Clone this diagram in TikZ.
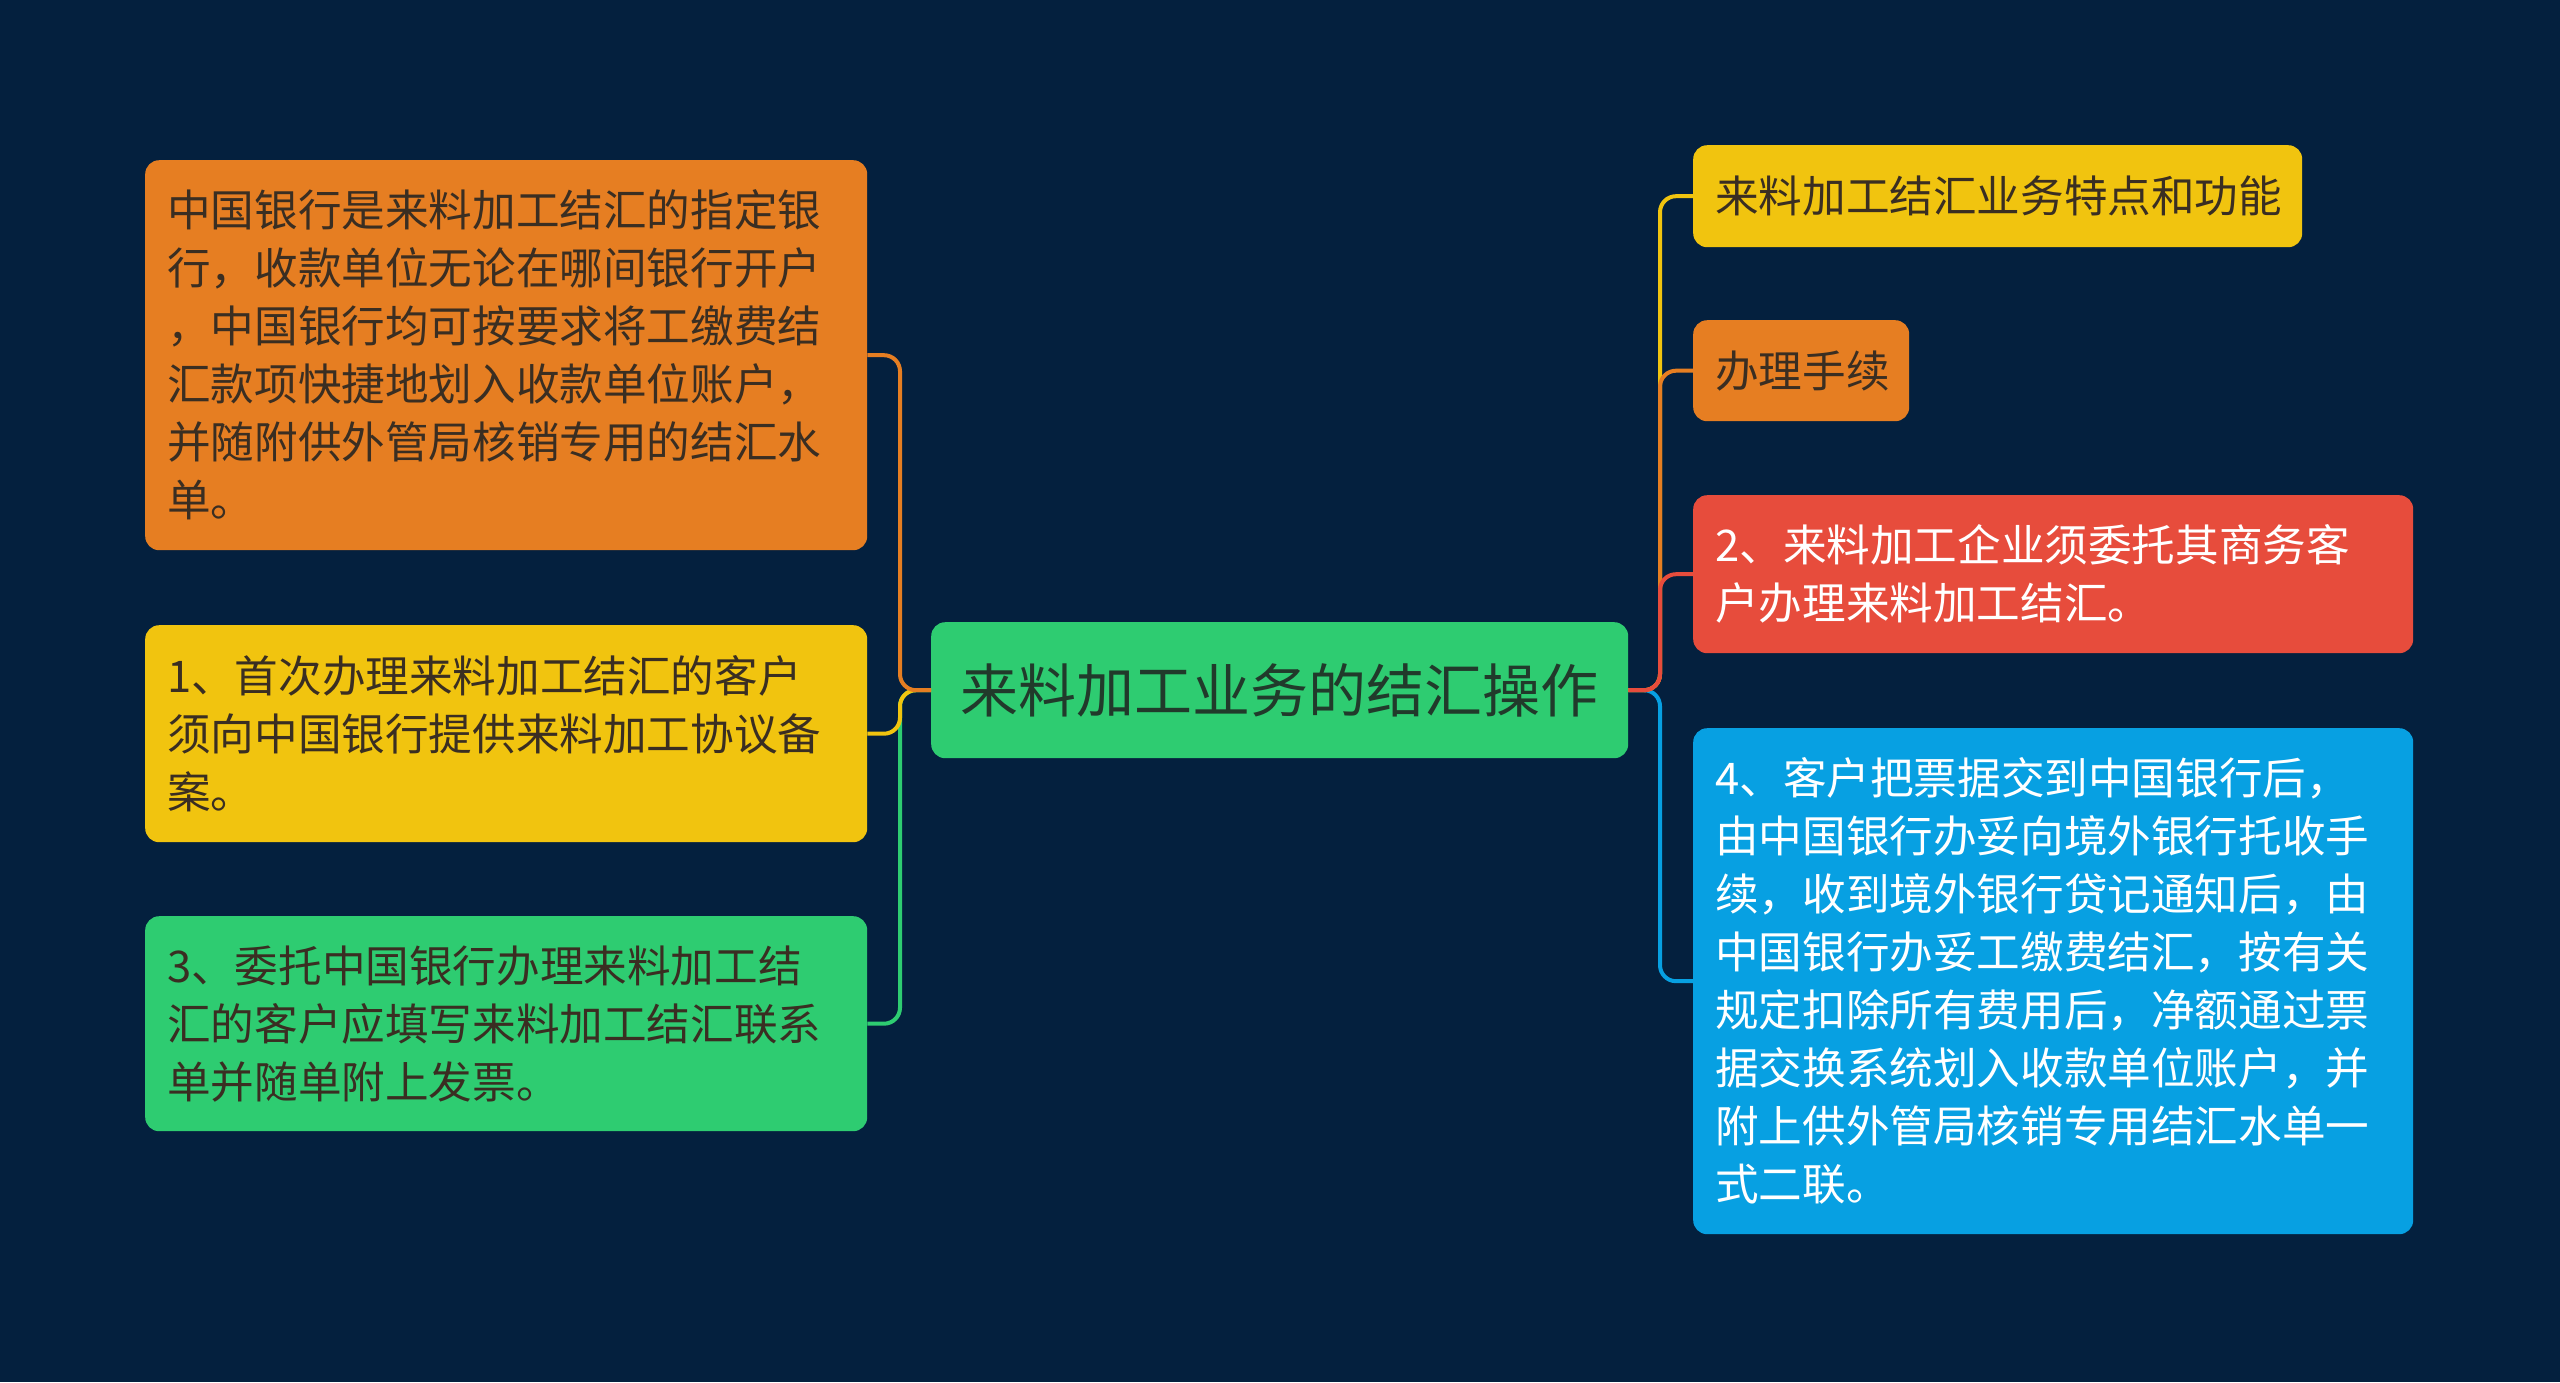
\documentclass[tikz,border=0pt]{standalone}
\usepackage{fontspec}
\newfontfamily\cjk{Noto Sans CJK SC}
\definecolor{bg}{HTML}{04203E}
\definecolor{cOrange}{HTML}{E67E22}
\definecolor{cYellow}{HTML}{F1C40F}
\definecolor{cGreen}{HTML}{2ECC71}
\definecolor{cRed}{HTML}{E74C3C}
\definecolor{cBlue}{HTML}{07A0E2}
\definecolor{cDark}{HTML}{3A2E22}
\definecolor{cDarkG}{HTML}{213A2B}
\begin{document}
\begin{tikzpicture}[x=1pt,y=-1pt,
  box/.style={rounded corners=14pt, inner xsep=22pt, inner ysep=0pt, align=left,
    anchor=north west, font=\cjk\fontsize{43.6pt}{58pt}\selectfont},
  link/.style={line width=4pt, rounded corners=16pt}]
\fill[bg] (0,0) rectangle (2560,1382);
\useasboundingbox (0,0) rectangle (2560,1382);

\coordinate (lbar) at (900,0);
\coordinate (rbar) at (1660,0);

\node[box, fill=cGreen, text=cDarkG, align=center, minimum width=697pt, minimum height=136pt,
  text width=653pt, font=\cjk\fontsize{58pt}{66pt}\selectfont] (C) at (931,622) {来料加工业务的结汇操作};

\node[box, fill=cOrange, text=cDark, minimum width=722pt, minimum height=390pt, text width=678pt] (L1) at (145,160)
{中国银行是来料加工结汇的指定银\\行，收款单位无论在哪间银行开户\\，中国银行均可按要求将工缴费结\\汇款项快捷地划入收款单位账户，\\并随附供外管局核销专用的结汇水\\单。};
\node[box, fill=cYellow, text=cDark, minimum width=722pt, minimum height=217pt, text width=678pt] (L2) at (145,625)
{1、首次办理来料加工结汇的客户\\须向中国银行提供来料加工协议备\\案。};
\node[box, fill=cGreen, text=cDark, minimum width=722pt, minimum height=215pt, text width=678pt] (L3) at (145,916)
{3、委托中国银行办理来料加工结\\汇的客户应填写来料加工结汇联系\\单并随单附上发票。};

\node[box, fill=cYellow, text=cDark, minimum width=609pt, minimum height=102pt, text width=565pt] (R1) at (1693,145)
{来料加工结汇业务特点和功能};
\node[box, fill=cOrange, text=cDark, minimum width=216pt, minimum height=101pt, text width=172pt] (R2) at (1693,320)
{办理手续};
\node[box, fill=cRed, text=white, minimum width=720pt, minimum height=158pt, text width=676pt] (R3) at (1693,495)
{2、来料加工企业须委托其商务客\\户办理来料加工结汇。};
\node[box, fill=cBlue, text=white, minimum width=720pt, minimum height=506pt, text width=676pt] (R4) at (1693,728)
{4、客户把票据交到中国银行后，\\由中国银行办妥向境外银行托收手\\续，收到境外银行贷记通知后，由\\中国银行办妥工缴费结汇，按有关\\规定扣除所有费用后，净额通过票\\据交换系统划入收款单位账户，并\\附上供外管局核销专用结汇水单一\\式二联。};

\draw[link, cGreen] (C.west) -- (lbar |- C.west) |- (L3.east);
\draw[link, cYellow] (C.west) -- (lbar |- C.west) |- (L2.east);
\draw[link, cOrange] (C.west) -- (lbar |- C.west) |- (L1.east);

\draw[link, cBlue] (C.east) -- (rbar |- C.east) |- (R4.west);
\draw[link, cYellow] (C.east) -- (rbar |- C.east) |- (R1.west);
\draw[link, cOrange] (C.east) -- (rbar |- C.east) |- (R2.west);
\draw[link, cRed] (C.east) -- (rbar |- C.east) |- (R3.west);
\end{tikzpicture}
\end{document}
